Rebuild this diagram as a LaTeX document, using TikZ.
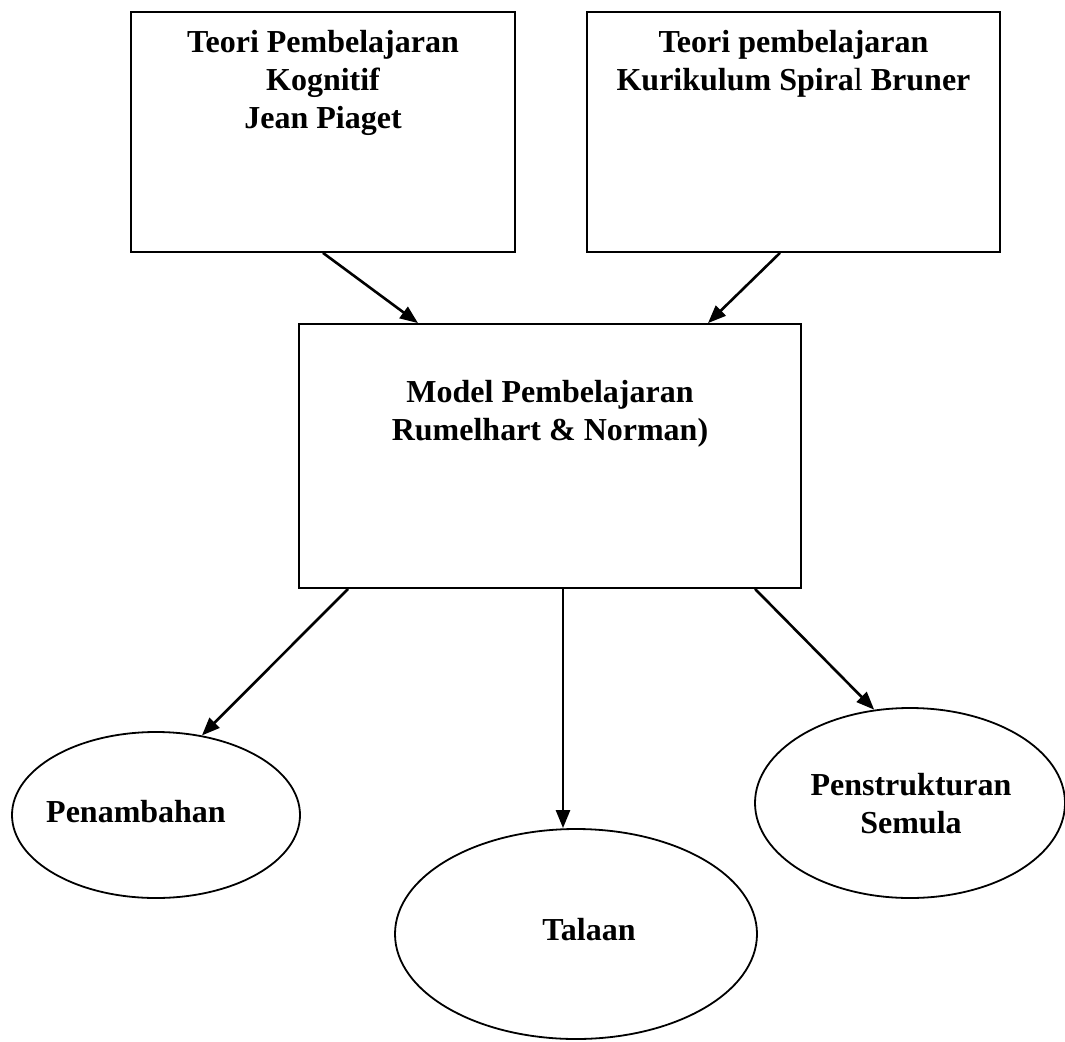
\documentclass[tikz,border=0pt]{standalone}
\usepackage{fontspec}
\setmainfont{Liberation Serif}
\usetikzlibrary{arrows.meta,shapes.geometric}

\tikzset{
  box/.style={draw,rectangle,line width=1.8pt,inner sep=0pt},
  oval/.style={draw,ellipse,line width=1.8pt,inner sep=0pt},
  lbl/.style={inner sep=0pt,align=center,font=\bfseries\fontsize{32}{38}\selectfont},
  arr/.style={line width=2.6pt,-{Triangle[length=18pt,width=14pt]}}
}

\begin{document}
\begin{tikzpicture}[x=1pt,y=-1pt]
        \useasboundingbox (0,0) rectangle (1065,1041);
        \draw (323,132) node[box,minimum width=384pt,minimum height=240pt] (B1) {};
        \draw (793.5,132) node[box,minimum width=413pt,minimum height=240pt] (B2) {};
        \draw (550,456) node[box,minimum width=502pt,minimum height=264pt] (M) {};
        \draw (156,815) node[oval,minimum width=288pt,minimum height=166pt] (E1) {};
        \draw (576,934) node[oval,minimum width=362pt,minimum height=210pt] (E2) {};
        \draw (910,803) node[oval,minimum width=310pt,minimum height=190pt] (E3) {};
        \draw (323,30) node[lbl,anchor=north] (T1) {Teori Pembelajaran\\Kognitif\\Jean Piaget};
        \draw (793.5,30) node[lbl,anchor=north] (T2) {Teori pembelajaran\\Kurikulum Spira{\mdseries l} Bruner};
        \draw (550,380) node[lbl,anchor=north] (TM) {Model Pembelajaran\\Rumelhart \& Norman)};
        \draw (136,822) node[lbl,anchor=base] (TE1) {Penambahan};
        \draw (589,940) node[lbl,anchor=base] (TE2) {Talaan};
        \draw (911,773) node[lbl,anchor=north] (TE3) {Penstrukturan\\Semula};
        \draw[arr] (B1.south)--([xshift=-132pt]M.north);
        \draw[arr] ([xshift=-13.5pt]B2.south)--([xshift=158pt]M.north);
        \draw[arr] ([xshift=-202pt]M.south)--(E1.60);
        \draw[arr] ([xshift=13pt]M.south)--([xshift=13pt]M.south |- E2.north);
        \draw[arr] ([xshift=205pt]M.south)--(E3.111);
        \end{tikzpicture}
\end{document}
